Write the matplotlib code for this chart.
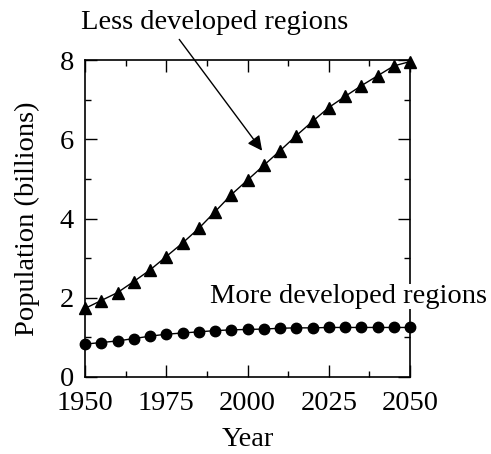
import matplotlib
matplotlib.use("Agg")
import matplotlib.pyplot as plt
from matplotlib.ticker import MultipleLocator

plt.rcParams["font.family"] = ["Liberation Serif", "DejaVu Serif"]
plt.rcParams["font.size"] = 20.5

years = [1950, 1955, 1960, 1965, 1970, 1975, 1980, 1985, 1990, 1995, 2000,
         2005, 2010, 2015, 2020, 2025, 2030, 2035, 2040, 2045, 2050]
less_dev = [1.73, 1.93, 2.13, 2.41, 2.70, 3.04, 3.38, 3.75, 4.17, 4.60, 4.97,
            5.34, 5.71, 6.09, 6.45, 6.80, 7.08, 7.35, 7.60, 7.85, 7.96]
more_dev = [0.83, 0.87, 0.91, 0.97, 1.03, 1.08, 1.11, 1.14, 1.17, 1.19, 1.20,
            1.21, 1.23, 1.24, 1.24, 1.25, 1.25, 1.25, 1.25, 1.25, 1.25]

fig = plt.figure(figsize=(4.91, 4.54), dpi=100)
ax = fig.add_axes([85 / 491, 77 / 454, 325 / 491, 317 / 454])

ax.plot(years, less_dev, color="black", lw=1.0, marker="^", ms=9, clip_on=False)
ax.plot(years, more_dev, color="black", lw=1.0, marker="o", ms=7.5, clip_on=False)

ax.set_xlim(1950, 2050)
ax.set_ylim(0, 8)
ax.xaxis.set_major_locator(MultipleLocator(25))
ax.xaxis.set_minor_locator(MultipleLocator(12.5))
ax.yaxis.set_major_locator(MultipleLocator(2))
ax.yaxis.set_minor_locator(MultipleLocator(1))
ax.tick_params(which="both", direction="in", top=True, right=True, width=1.0)
ax.tick_params(which="major", length=8.5)
ax.tick_params(which="minor", length=4.5)
ax.tick_params(axis="x", which="major", pad=10)
ax.tick_params(axis="y", which="major", pad=8)
for s in ax.spines.values():
    s.set_linewidth(1.2)

ax.set_xlabel("Year", labelpad=8)
ax.set_ylabel("Population (billions)", labelpad=14)

# label and arrow for the upper series
ax.text(1990, 8.62, "Less developed regions", ha="center", va="bottom",
        clip_on=False)
ax.annotate("", xy=(2004.5, 5.71), xytext=(1979, 8.52),
            annotation_clip=False,
            arrowprops=dict(arrowstyle="-|>", color="black", lw=1.0,
                            mutation_scale=22, shrinkA=0, shrinkB=0))
ax.text(1988.5, 2.03, "More developed regions", ha="left", va="center",
        clip_on=False, zorder=5,
        bbox=dict(facecolor="white", edgecolor="none", pad=0))

fig.savefig("out.png", dpi=100)
